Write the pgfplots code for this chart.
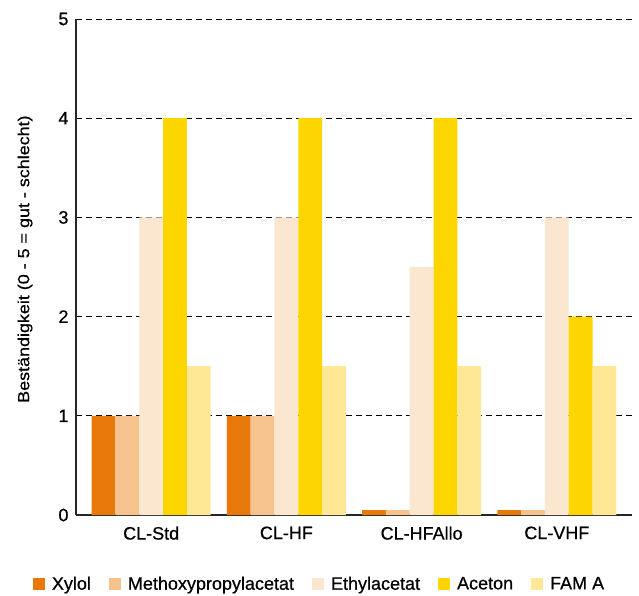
\documentclass[border=0pt]{standalone}
\usepackage{fontspec}
\setmainfont{Liberation Sans}[FakeBold=0.6]
\usepackage{pgfplots}
\pgfplotsset{compat=1.18}
\definecolor{cXyl}{HTML}{E8780A}
\definecolor{cMet}{HTML}{F6C28D}
\definecolor{cEth}{HTML}{FBE6CF}
\definecolor{cAce}{HTML}{FDD500}
\definecolor{cFam}{HTML}{FEE795}
\pgfplotsset{sqleg/.style={legend image code/.code={\fill[##1,draw=none] (0pt,-6pt) rectangle (12pt,6pt);}}}
\begin{document}
\begin{tikzpicture}
\begin{axis}[
  at={(0pt,0pt)}, anchor=south west,
  scale only axis, width=556pt, height=496pt,
  ybar=0pt, bar width=0.176,
  xmin=-0.556, xmax=3.556, ymin=0, ymax=5,
  xtick=data, xticklabels={CL-Std,CL-HF,CL-HFAllo,CL-VHF},
  ytick={0,1,2,3,4,5},
  /pgf/number format/assume math mode=true,
  axis lines*=left, axis line style={black!85, line width=1.1pt},
  major tick length=0pt,
  ymajorgrids, grid style={black, dash pattern=on 6pt off 4pt, line width=0.8pt},
  tick label style={font=\fontsize{18}{21}\selectfont},
  yticklabel style={xshift=-4pt},
  xticklabel style={yshift=-8pt},
  every axis y label/.style={at={(axis description cs:-0.0917,0.516)},rotate=90,anchor=center,font=\fontsize{16}{19}\selectfont},
  ylabel={\scalebox{1.12}[1]{Beständigkeit (0 - 5 = gut - schlecht)}},
  legend style={draw=none, at={(axis description cs:0.438,-0.139)}, anchor=center, legend columns=5, font=\fontsize{18}{21}\selectfont, /tikz/every odd column/.append style={column sep=5pt}, /tikz/every even column/.append style={column sep=16pt}, inner sep=0pt},
]
\addplot[fill=cXyl, draw=none, sqleg] coordinates {(0,1) (1,1) (2,0.05) (3,0.05)};
\addplot[fill=cMet, draw=none, sqleg] coordinates {(0,1) (1,1) (2,0.05) (3,0.05)};
\addplot[fill=cEth, draw=none, sqleg] coordinates {(0,3) (1,3) (2,2.5) (3,3)};
\addplot[fill=cAce, draw=none, sqleg] coordinates {(0,4) (1,4) (2,4) (3,2)};
\addplot[fill=cFam, draw=none, sqleg] coordinates {(0,1.5) (1,1.5) (2,1.5) (3,1.5)};
\legend{Xylol,Methoxypropylacetat,Ethylacetat,Aceton,FAM A}
\end{axis}
\pgfresetboundingbox
\path[use as bounding box] (-76pt,-80pt) rectangle (563pt,515pt);
\end{tikzpicture}
\end{document}
